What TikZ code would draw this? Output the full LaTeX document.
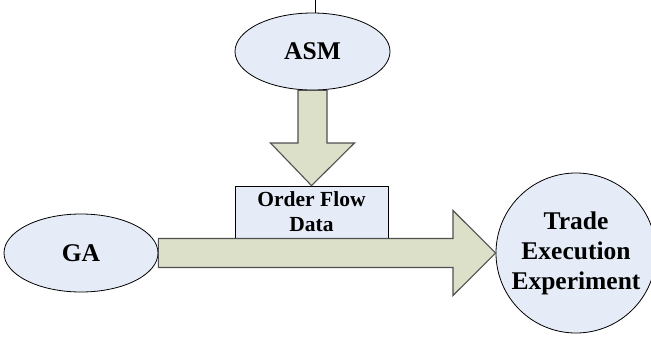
\documentclass[tikz,border=0pt]{standalone}
\usepackage{fontspec}
\setmainfont{Liberation Serif}
\usetikzlibrary{shapes.geometric,calc}
\definecolor{nodefill}{HTML}{E6ECF7}
\definecolor{arrowfill}{HTML}{DCE0C9}
\definecolor{arrowline}{HTML}{505050}
\tikzset{
  ellnode/.style={ellipse, draw=black, line width=0.8pt, fill=nodefill, inner sep=0pt},
  boxnode/.style={rectangle, draw=black, line width=0.8pt, fill=nodefill, inner sep=0pt},
  blockarrow/.style={draw=arrowline, line width=1.1pt, fill=arrowfill, line join=miter},
  lbl/.style={font=\fontsize{25.5}{30}\selectfont\bfseries, align=center}
}
\begin{document}
\begin{tikzpicture}[x=1pt,y=-1pt]
\useasboundingbox (0,0) rectangle (651,338);
% nodes
\node[ellnode, minimum width=155pt, minimum height=77pt, lbl] (asm) at (312.5,51.5) {ASM};
\node[ellnode, minimum width=154pt, minimum height=78pt, lbl] (ga) at (81,253) {GA};
\node[boxnode, minimum width=153pt, minimum height=52pt, font=\fontsize{21.5}{25}\selectfont\bfseries, align=center] (ofd) at (311.5,212) {Order Flow\\Data};
\node[circle, draw=black, line width=0.8pt, fill=nodefill, minimum size=160pt, inner sep=0pt, lbl] (tee) at (576,253) {Trade\\Execution\\Experiment};
% top line
\coordinate (topend) at (315,0);
\draw[line width=0.8pt] (topend) -- (asm.north -| topend);
% down arrow from ASM to Order Flow Data
\draw[blockarrow]
  ($(asm.south)+(-14.5,0)$) -- ($(asm.south)+(14.5,0)$) --
  ($(asm.south |- 0,143)+(14.5,0)$) -- ($(asm.south |- 0,143)+(42,0)$) --
  (ofd.north) --
  ($(asm.south |- 0,143)+(-42,0)$) -- ($(asm.south |- 0,143)+(-14.5,0)$) -- cycle;
% right arrow from GA to Trade Execution Experiment
\draw[blockarrow]
  ($(ga.east)+(0,-14.5)$) -- ($(ga.east -| 453,0)+(0,-14.5)$) --
  ($(ga.east -| 453,0)+(0,-42.5)$) -- (tee.west) --
  ($(ga.east -| 453,0)+(0,42.5)$) -- ($(ga.east -| 453,0)+(0,14.5)$) --
  ($(ga.east)+(0,14.5)$) -- cycle;
\end{tikzpicture}
\end{document}
